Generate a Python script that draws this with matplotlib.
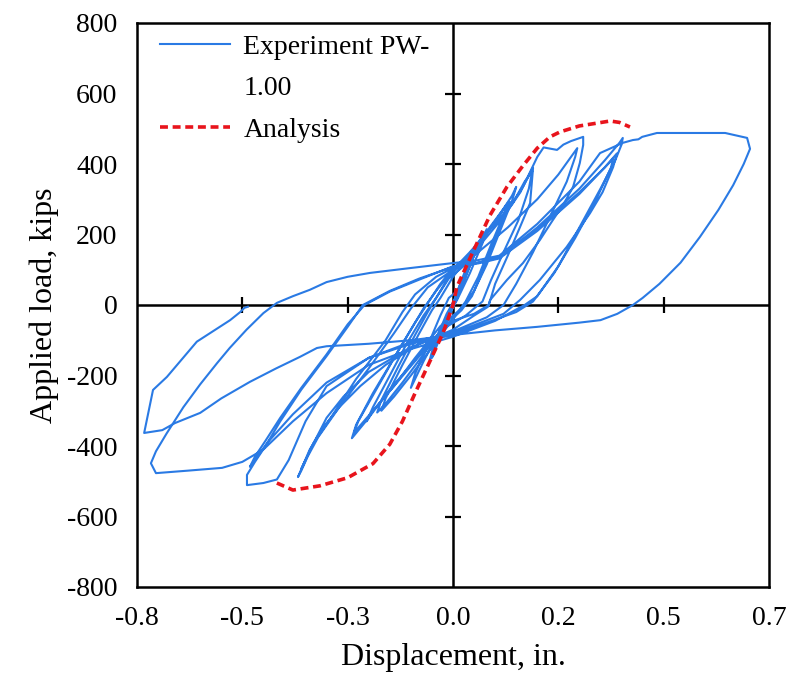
import numpy as np
import matplotlib.pyplot as plt
from matplotlib.lines import Line2D

plt.rcParams["font.family"] = ["Liberation Serif", "DejaVu Serif"]
plt.rcParams["axes.unicode_minus"] = False

# --- experiment PW-1.00, cycle by cycle (displacement in., load kips) ---
cyc1_x = [0.0, 0.02, 0.05, 0.04, 0.01, -0.02, -0.05, -0.04, -0.01,
          0.02, 0.055, 0.045, 0.01, -0.02, -0.055, -0.045, -0.015,
          0.02, 0.05, 0.08, 0.07, 0.04, 0.01, -0.03, -0.07, -0.1, -0.09, -0.06, -0.03, -0.01]
cyc1_y = [0, 70, 160, 120, 20, -60, -150, -110, -20,
          60, 165, 125, 25, -55, -155, -110, -25,
          50, 140, 215, 175, 90, 15, -70, -160, -235, -195, -115, -30, 20]

cyc2_x = [0.01, 0.05, 0.09, 0.13, 0.12, 0.09, 0.06, 0.03, 0.0, -0.05, -0.1, -0.14, -0.17,
          -0.16, -0.12, -0.08, -0.05, -0.03, 0.0,
          0.04, 0.09, 0.125, 0.135, 0.125, 0.095, 0.07, 0.045, 0.02, -0.02, -0.07, -0.12,
          -0.16, -0.18, -0.17, -0.13, -0.09, -0.06, -0.04, -0.01,
          0.03, 0.07, 0.11, 0.14, 0.15, 0.14, 0.11, 0.08, 0.05, 0.02, -0.03, -0.09, -0.14,
          -0.19, -0.205, -0.19, -0.15, -0.11, -0.07, -0.04, -0.01]
cyc2_y = [40, 140, 225, 289, 255, 170, 80, 10, -40, -120, -200, -260, -300,
          -265, -170, -80, -15, 20, 80,
          140, 220, 280, 292, 260, 175, 95, 25, -15, -60, -140, -220,
          -280, -305, -270, -175, -85, -20, 20, 75,
          115, 185, 255, 310, 335, 295, 205, 115, 40, -10, -60, -150, -230,
          -300, -330, -290, -200, -110, -30, 20, 80]

cyc3_x = [0.03, 0.08, 0.13, 0.166, 0.19, 0.183, 0.159, 0.13, 0.1, 0.085, 0.05, 0.0, -0.05,
          -0.1, -0.15, -0.2, -0.24, -0.23, -0.19, -0.14, -0.1, -0.07, -0.04, 0.0,
          0.04, 0.1, 0.142, 0.17, 0.188, 0.18, 0.155, 0.12, 0.09, 0.07, 0.03, -0.02, -0.08,
          -0.14, -0.19, -0.235, -0.225, -0.18, -0.13, -0.09, -0.06, -0.03, 0.0]
cyc3_y = [130, 210, 270, 335, 389, 289, 221, 140, 60, 0, -25, -45, -100,
          -170, -240, -320, -378, -340, -250, -150, -70, -10, 40, 100,
          150, 230, 289, 350, 380, 330, 240, 150, 70, 10, -30, -65, -145,
          -230, -300, -362, -330, -235, -130, -50, 5, 60, 105]

cyc4_x = [0.05, 0.12, 0.16, 0.2, 0.215, 0.247, 0.262, 0.28, 0.309, 0.309, 0.301, 0.285, 0.262,
          0.237, 0.206, 0.166, 0.128, 0.088, 0.083, 0.05, 0.0, -0.08, -0.16, -0.22, -0.27,
          -0.31, -0.34, -0.368, -0.36, -0.345, -0.32, -0.27, -0.2, -0.14, -0.1, -0.06, 0.0,
          0.06, 0.13, 0.2, 0.25, 0.28, 0.295, 0.29, 0.27, 0.23, 0.19, 0.15, 0.12, 0.08, 0.0,
          -0.1, -0.2, -0.26, -0.3, -0.33, -0.36, -0.35, -0.33, -0.29, -0.23, -0.16, -0.12,
          -0.09, -0.04, 0.0]
cyc4_y = [150, 250, 320, 420, 447, 440, 455, 465, 477, 454, 403, 335, 285,
          241, 184, 119, 71, 14, -5, -30, -70, -110, -170, -230, -290,
          -350, -410, -488, -470, -430, -375, -290, -180, -80, -10, 50, 100,
          150, 220, 300, 370, 420, 445, 420, 350, 250, 150, 60, 0, -35, -75,
          -120, -190, -260, -320, -390, -465, -440, -390, -320, -210, -100, -20,
          30, 80, 105]

cyc5_x = [0.06, 0.11, 0.2, 0.3, 0.36, 0.389, 0.38, 0.355, 0.325, 0.27, 0.206, 0.159, 0.12,
          0.0, -0.1, -0.2, -0.3, -0.35, -0.39, -0.418, -0.45, -0.489, -0.489, -0.47, -0.445,
          -0.41, -0.36, -0.3, -0.25, -0.214, -0.15, -0.08, 0.0,
          0.06, 0.11, 0.2, 0.3, 0.38, 0.375, 0.34, 0.29, 0.24, 0.19, 0.15, 0.08, 0.0,
          -0.1, -0.2, -0.3, -0.38, -0.44, -0.482, -0.47, -0.445, -0.41, -0.36, -0.3, -0.25,
          -0.21, -0.15, -0.08, 0.0]
cyc5_y = [120, 135, 215, 320, 390, 430, 391, 320, 260, 165, 71, 14, -25,
          -80, -105, -150, -230, -330, -440, -495, -505, -511, -482, -445, -400,
          -330, -240, -145, -62, 0, 40, 75, 108,
          118, 132, 210, 315, 415, 390, 300, 190, 90, 10, -20, -50, -85,
          -110, -150, -220, -310, -390, -459, -430, -385, -320, -235, -140, -55,
          0, 38, 72, 110]

cyc6_x = [0.06, 0.11, 0.2, 0.3, 0.36, 0.395, 0.403, 0.4, 0.385, 0.35, 0.3, 0.25, 0.2, 0.17,
          0.1, 0.0, -0.1, -0.2, -0.3, -0.38, -0.45, -0.5, -0.548, -0.63, -0.705, -0.717,
          -0.705, -0.68, -0.64, -0.6, -0.56, -0.53, -0.49, -0.45, -0.418, -0.38, -0.34,
          -0.3, -0.25, -0.197, -0.1, 0.0]
cyc6_y = [120, 135, 220, 330, 410, 460, 474, 455, 410, 330, 220, 110, 25, 0,
          -45, -90, -125, -170, -250, -330, -410, -445, -462, -470, -477, -449,
          -415, -365, -290, -225, -165, -122, -70, -23, 6, 25, 43,
          65, 80, 91, 105, 119]

cyc7_x = [0.05, 0.11, 0.2, 0.3, 0.349, 0.403, 0.427, 0.44, 0.449, 0.484, 0.646, 0.698,
          0.705, 0.69, 0.665, 0.63, 0.586, 0.54, 0.49, 0.45, 0.427, 0.39, 0.35, 0.3, 0.2,
          0.1, 0.0, -0.1, -0.2, -0.3, -0.323, -0.363, -0.42, -0.482, -0.55, -0.6, -0.66,
          -0.69, -0.733, -0.712, -0.679, -0.608, -0.529, -0.505, -0.495, -0.487]
cyc7_y = [125, 140, 230, 350, 431, 460, 468, 470, 477, 488, 488, 474,
          443, 400, 340, 270, 193, 120, 60, 20, 0, -25, -43, -50, -62,
          -72, -85, -100, -110, -117, -122, -147, -180, -218, -265, -306, -335,
          -355, -363, -241, -204, -104, -43, -20, -8, -5]

# --- analysis (envelope) ---
ana_x = [-0.418, -0.38, -0.316, -0.25, -0.19, -0.15, -0.12, -0.09, -0.055, -0.024, 0.0,
         0.009, 0.047, 0.088, 0.128, 0.166, 0.2, 0.23, 0.254, 0.3, 0.342, 0.373, 0.395, 0.42]
ana_y = [-505, -525, -513, -490, -450, -395, -330, -250, -160, -80, 0,
         51, 150, 255, 335, 395, 445, 477, 491, 508, 516, 522, 518, 505]

xticks = [-0.75, -0.5, -0.25, 0.0, 0.25, 0.5, 0.75]
xtick_labels = ["-0.8", "-0.5", "-0.3", "0.0", "0.2", "0.5", "0.7"]
yticks = [-800, -600, -400, -200, 0, 200, 400, 600, 800]

exp_x = cyc1_x + cyc2_x + cyc3_x + cyc4_x + cyc5_x + cyc6_x + cyc7_x
exp_y = cyc1_y + cyc2_y + cyc3_y + cyc4_y + cyc5_y + cyc6_y + cyc7_y

BLUE = "#2a7ae4"
RED = "#e8141c"

fig = plt.figure(figsize=(7.93, 6.82), dpi=100)
ax = fig.add_axes([137 / 793, 1 - 587 / 682, 632 / 793, 564 / 682])

exp_line, = ax.plot(exp_x, exp_y, color=BLUE, lw=1.5, zorder=3)
ana_line, = ax.plot(ana_x, ana_y, color=RED, lw=2.6, ls=(0, (2.2, 1.3)), zorder=4)

# axes through the origin with crossing tick marks
ax.axhline(0, color="black", lw=1.8, zorder=2)
ax.axvline(0, color="black", lw=1.8, zorder=2)
inner_x = [t for t in xticks if t not in (-0.75, 0.0, 0.75)]
inner_y = [t for t in yticks if t not in (-800, 0, 800)]
ax.plot(inner_x, np.zeros(len(inner_x)), ls="none", marker="|", ms=12, mew=1.6, color="black", zorder=2)
ax.plot(np.zeros(len(inner_y)), inner_y, ls="none", marker="_", ms=12, mew=1.6, color="black", zorder=2)

ax.set_xlim(-0.75, 0.75)
ax.set_ylim(-800, 800)
ax.set_xticks(xticks)
ax.set_xticklabels(xtick_labels)
ax.set_yticks(yticks)
ax.tick_params(length=0, labelsize=20, pad=14)
for sp in ax.spines.values():
    sp.set_linewidth(1.8)

ax.set_xlabel("Displacement, in.", fontsize=23, labelpad=8)
ax.set_ylabel("Applied load, kips", fontsize=23, labelpad=6)

# legend: the wrapped label keeps its line beside the first row, as in Excel
blank = Line2D([], [], color="none")
ax.legend([exp_line, blank, ana_line], ["Experiment PW-", "1.00", "Analysis"],
          loc="upper left", bbox_to_anchor=(0.019, 1.0), fontsize=20, frameon=False,
          handlelength=2.5, borderaxespad=0.0, labelspacing=0.58, handletextpad=0.5)

fig.savefig("out.png", dpi=100)
